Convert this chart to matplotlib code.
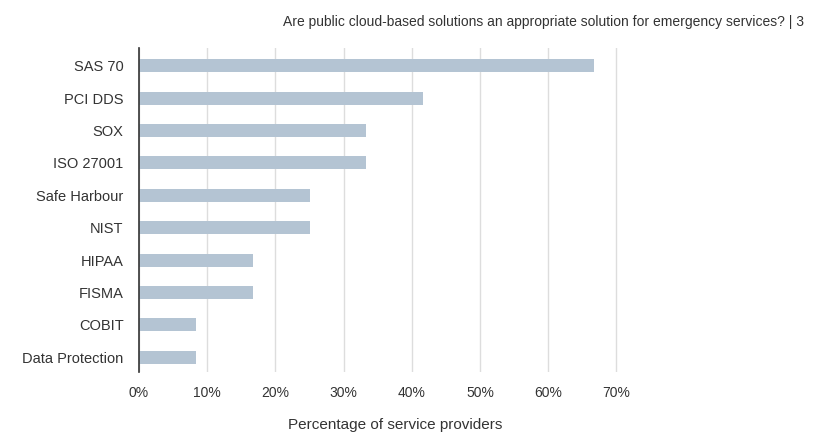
import numpy as np
import matplotlib.pyplot as plt
from matplotlib.ticker import FuncFormatter

plt.rcParams['font.family'] = ['Liberation Sans', 'DejaVu Sans']

# Datos
categorias = ['SAS 70', 'PCI DDS', 'SOX', 'ISO 27001', 'Safe Harbour',
              'NIST', 'HIPAA', 'FISMA', 'COBIT', 'Data Protection']
porcentajes = [66.7, 41.7, 33.3, 33.3, 25.0, 25.0, 16.7, 16.7, 8.3, 8.3]
ticks_x = [0, 10, 20, 30, 40, 50, 60, 70]
titulo = 'Are public cloud-based solutions an appropriate solution for emergency services? | 3'

fig = plt.figure(figsize=(8.16, 4.32), dpi=100)
ax = fig.add_axes([0.1703, 0.139, 0.627, 0.75])

y = np.arange(len(categorias))
ax.barh(y, porcentajes, height=0.4, color='#b4c4d3', zorder=2)

ax.set_xlim(0, 75)
ax.set_ylim(len(categorias) - 0.55, -0.55)
ax.set_yticks(y)
ax.set_yticklabels(categorias, fontsize=10.5, color='#333333')
ax.set_xticks(ticks_x)
ax.xaxis.set_major_formatter(FuncFormatter(lambda v, p: f'{v:.0f}%'))
ax.tick_params(axis='x', labelsize=10, colors='#333333', length=0, pad=10)
ax.tick_params(axis='y', length=0, pad=11)

ax.grid(axis='x', color='#dddddd', linewidth=1, zorder=0)
for s in ['top', 'right', 'bottom']:
    ax.spines[s].set_visible(False)
ax.spines['left'].set_color('#333333')
ax.spines['left'].set_linewidth(1.2)

ax.set_xlabel('Percentage of service providers', fontsize=11, color='#333333', labelpad=13)
fig.text(283 / 816, 1 - 22 / 432, titulo, fontsize=10, color='#333333', ha='left', va='center')

fig.savefig('out.png', dpi=100)
